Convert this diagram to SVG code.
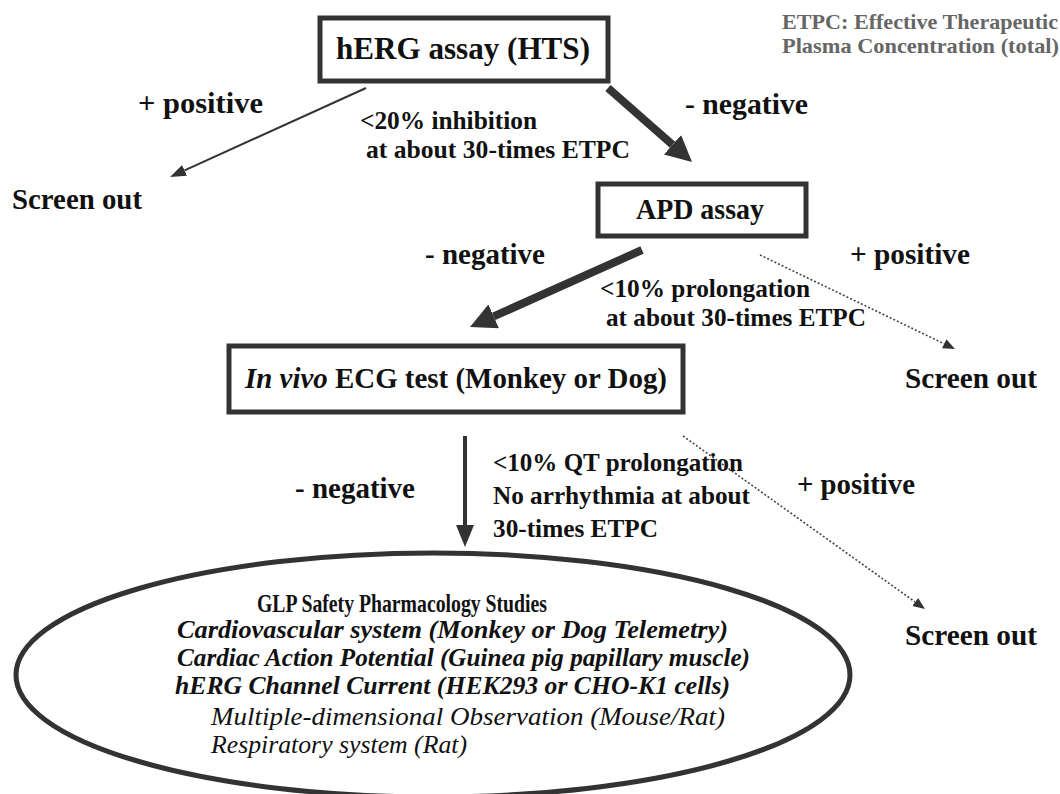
<svg xmlns="http://www.w3.org/2000/svg" width="1060" height="794" viewBox="0 0 1060 794" font-family="'Liberation Serif', 'Times New Roman', serif">
<defs>
<style>
text{font-family:'Liberation Serif','Times New Roman',serif;fill:#111;}
.b{font-weight:bold;}
.lbl{font-weight:bold;font-size:29px;}
.cond{font-weight:bold;font-size:25px;}
.note{font-weight:bold;font-size:21px;fill:#666;}
.box{fill:#fff;stroke:#333;stroke-width:5;}
.thick{stroke:#333;stroke-width:8;fill:none;}
.thin{stroke:#333;stroke-width:2;fill:none;}
.dot{stroke:#444;stroke-width:1.6;stroke-dasharray:2 2;fill:none;}
.down{stroke:#333;stroke-width:4;fill:none;}
</style>
<marker id="hThick" markerUnits="userSpaceOnUse" markerWidth="30" markerHeight="30" refX="0" refY="13" orient="auto"><path d="M0,0 L26,13 L0,26 z" fill="#333"/></marker>
<marker id="hThin" markerUnits="userSpaceOnUse" markerWidth="20" markerHeight="20" refX="0" refY="6" orient="auto"><path d="M0,0 L16,6 L0,12 z" fill="#333"/></marker>
<marker id="hDown" markerUnits="userSpaceOnUse" markerWidth="26" markerHeight="26" refX="0" refY="9" orient="auto"><path d="M0,0 L22,9 L0,18 z" fill="#333"/></marker>
<marker id="hDot" markerUnits="userSpaceOnUse" markerWidth="16" markerHeight="16" refX="0" refY="5" orient="auto"><path d="M0,0 L12,5 L0,10 z" fill="#333"/></marker>
</defs>
<rect width="1060" height="794" fill="#fff"/>

<g id="connectors">
<line class="thin" x1="366" y1="88" x2="184.6" y2="170.4" marker-end="url(#hThin)"/>
<line class="thick" x1="608" y1="88" x2="672.5" y2="144.8" marker-end="url(#hThick)"/>
<line class="thick" x1="642" y1="250" x2="493.7" y2="316.4" marker-end="url(#hThick)"/>
<line class="dot" x1="760" y1="255" x2="944.2" y2="343.8" marker-end="url(#hDot)"/>
<line class="down" x1="465" y1="436" x2="465" y2="525" marker-end="url(#hDown)"/>
<line class="dot" x1="683" y1="436" x2="915.2" y2="602" marker-end="url(#hDot)"/>
</g>

<g id="note">
<text class="note" x="782" y="29" textLength="276" lengthAdjust="spacingAndGlyphs">ETPC: Effective Therapeutic</text>
<text class="note" x="782" y="53" textLength="277" lengthAdjust="spacingAndGlyphs">Plasma Concentration (total)</text>
</g>

<g id="herg">
<rect class="box" x="320" y="18" width="288" height="63"/>
<text class="b" x="336" y="59" font-size="32" textLength="254" lengthAdjust="spacingAndGlyphs">hERG assay (HTS)</text>
</g>

<g id="apd">
<rect class="box" x="598" y="184" width="208" height="52"/>
<text class="b" x="636" y="219" font-size="30" textLength="128" lengthAdjust="spacingAndGlyphs">APD assay</text>
</g>

<g id="ecg">
<rect class="box" x="229" y="346" width="454" height="66"/>
<text class="b" x="245" y="388" font-size="29" textLength="422" lengthAdjust="spacingAndGlyphs"><tspan font-style="italic">In vivo</tspan> ECG test (Monkey or Dog)</text>
</g>

<g id="screen1"><text class="lbl" x="12" y="209" textLength="130" lengthAdjust="spacingAndGlyphs">Screen out</text></g>
<g id="screen2"><text class="lbl" x="905" y="388" textLength="132" lengthAdjust="spacingAndGlyphs">Screen out</text></g>
<g id="screen3"><text class="lbl" x="905" y="645" textLength="132" lengthAdjust="spacingAndGlyphs">Screen out</text></g>

<g id="labels">
<text class="lbl" x="138" y="113" textLength="125" lengthAdjust="spacingAndGlyphs">+ positive</text>
<text class="cond" x="360" y="129" textLength="177" lengthAdjust="spacingAndGlyphs">&lt;20% inhibition</text>
<text class="cond" x="366" y="158" textLength="264" lengthAdjust="spacingAndGlyphs">at about 30-times ETPC</text>
<text class="lbl" x="685" y="114" textLength="123" lengthAdjust="spacingAndGlyphs">- negative</text>
<text class="lbl" x="425" y="264" textLength="120" lengthAdjust="spacingAndGlyphs">- negative</text>
<text class="lbl" x="850" y="264" textLength="120" lengthAdjust="spacingAndGlyphs">+ positive</text>
<text class="cond" x="600" y="297" textLength="210" lengthAdjust="spacingAndGlyphs">&lt;10% prolongation</text>
<text class="cond" x="606" y="326" textLength="260" lengthAdjust="spacingAndGlyphs">at about 30-times ETPC</text>
<text class="lbl" x="295" y="498" textLength="120" lengthAdjust="spacingAndGlyphs">- negative</text>
<text class="cond" x="493" y="471" textLength="250" lengthAdjust="spacingAndGlyphs">&lt;10% QT prolongation</text>
<text class="cond" x="493" y="504" textLength="257" lengthAdjust="spacingAndGlyphs">No arrhythmia at about</text>
<text class="cond" x="493" y="537" textLength="165" lengthAdjust="spacingAndGlyphs">30-times ETPC</text>
<text class="lbl" x="797" y="494" textLength="118" lengthAdjust="spacingAndGlyphs">+ positive</text>
</g>

<g id="glp">
<ellipse cx="433" cy="675" rx="417" ry="122" fill="#fff" stroke="#333" stroke-width="5"/>
<text class="b" x="257" y="612" font-size="25" textLength="290" lengthAdjust="spacingAndGlyphs">GLP Safety Pharmacology Studies</text>
<text class="b" x="177" y="638" font-size="26" font-style="italic" textLength="551" lengthAdjust="spacingAndGlyphs">Cardiovascular system (Monkey or Dog Telemetry)</text>
<text class="b" x="177" y="666" font-size="26" font-style="italic" textLength="573" lengthAdjust="spacingAndGlyphs">Cardiac Action Potential (Guinea pig papillary muscle)</text>
<text class="b" x="175" y="694" font-size="26" font-style="italic" textLength="555" lengthAdjust="spacingAndGlyphs">hERG Channel Current (HEK293 or CHO-K1 cells)</text>
<text x="211" y="725" font-size="26" font-style="italic" textLength="514" lengthAdjust="spacingAndGlyphs">Multiple-dimensional Observation (Mouse/Rat)</text>
<text x="211" y="753" font-size="26" font-style="italic" textLength="256" lengthAdjust="spacingAndGlyphs">Respiratory system (Rat)</text>
</g>
</svg>
